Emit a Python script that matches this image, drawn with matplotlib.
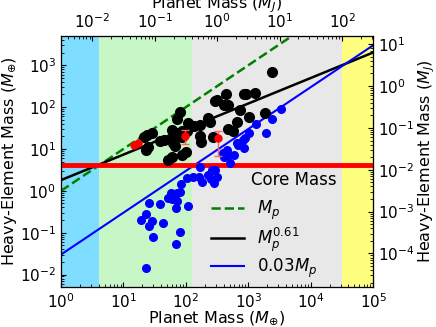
import numpy as np
import matplotlib
matplotlib.use("Agg")
import matplotlib.pyplot as plt

ME_PER_MJ = 317.8

# planets: total mass and heavy-element mass (Earth masses)
black_mp = [2362, 438, 851, 916, 1277, 292, 311, 412, 472, 734, 1880, 1042, 228, 243,
            168, 135, 650, 477, 578, 171, 274, 172, 79, 71, 108, 59, 69, 86, 71, 28.6,
            23.6, 38.5, 43.8, 55.6, 61.4, 66.8, 24.7, 23, 100, 86.5, 59, 52, 103, 86, 21.5]
black_mz = [680, 206, 206, 206, 221, 138, 150, 114, 111, 84, 71, 58, 55, 45,
            36.7, 34.8, 42.9, 29.4, 26.1, 20, 19.1, 14.4, 77.5, 51, 41.5, 28.6, 24.7, 26.1, 19.1, 24.3,
            21.1, 15.2, 16.5, 16.9, 13.7, 11.5, 11.0, 9.2, 8.6, 7.2, 6.4, 5.5, 26.1, 19.8, 19.5]

blue_mp = [3327, 2362, 1893, 1310, 1035, 883, 650, 690, 762, 860, 829, 595, 450, 477, 412,
           508, 397, 168, 259, 292, 162, 228, 252, 285, 178, 131, 103, 318, 82.5, 80.4,
           72.8, 58.1, 52.2, 59.9, 71.2, 69.4, 107, 38.5, 25.9, 23, 19.2, 29, 25.9, 42.2,
           29.2, 80.4, 68.9, 22.8]
blue_mz = [90, 51.8, 24.3, 38.8, 23.9, 18.1, 13.7, 12.2, 13.7, 10.4, 16.5, 7.2, 9.5, 7.2, 6.5,
           4.7, 7.9, 3.7, 3.14, 3.14, 2.17, 2.32, 1.88, 1.51, 1.64, 2.17, 1.98, 2.1, 1.42, 0.95,
           0.87, 0.87, 0.66, 0.63, 0.58, 0.38, 0.43, 0.49, 0.52, 0.276, 0.206, 0.193, 0.142, 0.168,
           0.0787, 0.102, 0.0534, 0.0141]

red_mp = [14.5, 17.1, 96.7, 323]
red_mz = [12.2, 13.6, 20.6, 17.9]
red_lo = [0, 0, 7.4, 11.0]
red_hi = [0, 0, 8.0, 9.2]

core_mass = 4.1
regions = [(1, 4.06, 'deepskyblue'), (4.06, 124, 'lightgreen'),
           (124, 31780, 'lightgray'), (31780, 1e5, 'yellow')]

plt.rcParams['font.size'] = 11
plt.rcParams['axes.labelsize'] = 11.5
plt.rcParams['xtick.direction'] = 'in'
plt.rcParams['ytick.direction'] = 'in'

fig = plt.figure(figsize=(4.36, 3.27), dpi=100)
ax = fig.add_axes([0.140, 0.122, 0.716, 0.768])

for lo, hi, c in regions:
    ax.axvspan(lo, hi, color=c, alpha=0.5, lw=0, zorder=0)

x = np.logspace(0, 5, 200)
ax.plot(x, x, '--', color='green', lw=1.8, label='$M_p$', zorder=3)
ax.plot(x, 1.8 * x**0.61, '-', color='black', lw=1.8, label='$M_p^{0.61}$', zorder=3)
ax.plot(x, 0.03 * x, '-', color='blue', lw=1.5, label='$0.03M_p$', zorder=3)
ax.axhline(core_mass, color='red', lw=3.5, zorder=3)

ax.plot(black_mp, black_mz, 'o', color='black', ms=7, zorder=4)
ax.plot(blue_mp, blue_mz, 'o', color='blue', ms=5.5, zorder=4)
ax.errorbar(red_mp, red_mz, yerr=[red_lo, red_hi], fmt='o', color='red', ms=5,
            ecolor='#ff6060', elinewidth=1, capsize=3, zorder=5)

ax.text(0.745, 0.425, 'Core Mass', fontsize=12, ha='center', va='center',
        transform=ax.transAxes)

ax.set_xscale('log')
ax.set_yscale('log')
ax.set_xlim(1, 1e5)
ax.set_ylim(5e-3, 5e3)
ax.set_xlabel(r'Planet Mass ($M_{\oplus}$)', labelpad=-1)
ax.set_ylabel(r'Heavy-Element Mass ($M_{\oplus}$)', labelpad=1)
ax.tick_params(which='both', top=False, right=False)
for s in ax.spines.values():
    s.set_color('0.35')

axt = ax.twiny()
axt.set_xscale('log')
axt.set_xlim(1 / ME_PER_MJ, 1e5 / ME_PER_MJ)
axt.set_xlabel(r'Planet Mass ($M_J$)', labelpad=3)

axr = ax.twinx()
axr.set_yscale('log')
axr.set_ylim(5e-3 / ME_PER_MJ, 5e3 / ME_PER_MJ)
axr.set_ylabel(r'Heavy-Element Mass ($M_J$)', labelpad=1)

leg = ax.legend(loc='center', bbox_to_anchor=(0.65, 0.19), frameon=False,
                fontsize=12, handlelength=2.0, labelspacing=0.2)

fig.savefig('out.png', dpi=100)
